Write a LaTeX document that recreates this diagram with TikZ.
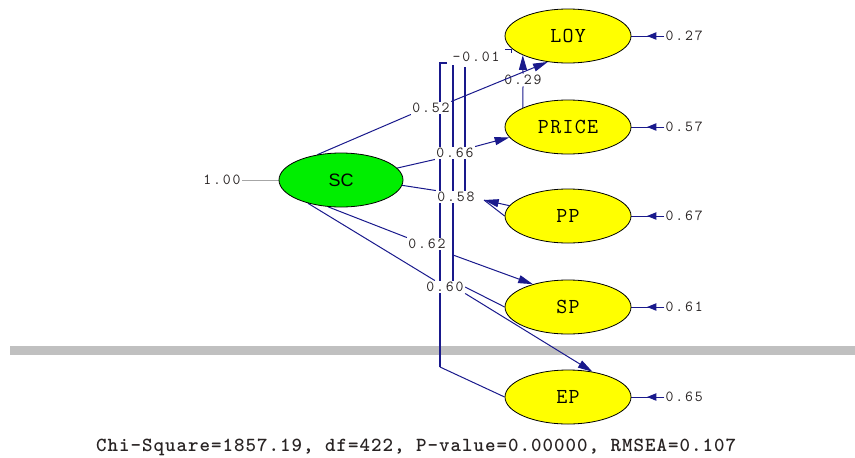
\documentclass[tikz,border=0pt]{standalone}
\usepackage{fontspec}
\usetikzlibrary{arrows.meta,calc,shapes.geometric}
\newfontfamily\ellfont[LetterSpace=6]{Latin Modern Mono}
\newfontfamily\lblfont[LetterSpace=12]{Latin Modern Mono}
\newfontfamily\fitfont[LetterSpace=5]{lmmonolt10-bold.otf}
\newfontfamily\scfont{Liberation Sans}
\definecolor{pathblue}{RGB}{25,25,140}
\definecolor{ltyellow}{RGB}{255,255,0}
\definecolor{ltgreen}{RGB}{0,238,0}
\definecolor{txtgray}{RGB}{40,35,35}
\definecolor{bargray}{RGB}{192,192,192}
\pgfdeclarelayer{bg}
\pgfsetlayers{bg,main}
\begin{document}
\begin{tikzpicture}[x=0.75pt,y=-0.75pt,
 latent/.style={ellipse,draw=black,line width=0.6pt,fill=ltyellow,minimum width=94.5pt,minimum height=40.5pt,inner sep=0pt,font=\ellfont\fontsize{16}{18}\selectfont},
 coef/.style={fill=white,inner sep=1pt,text=txtgray,font=\lblfont\fontsize{11.5}{13}\selectfont},
 errlbl/.style={anchor=west,inner sep=1pt,text=txtgray,font=\lblfont\fontsize{11.5}{13}\selectfont},
 pth/.style={draw=pathblue,line width=0.75pt},
 vln/.style={draw=pathblue,line width=1pt},
 arr/.style={pth,-{Triangle[length=11pt,width=6pt]}},
 errarr/.style={pth,-{Triangle[length=7pt,width=5.5pt]}},
]
\path[use as bounding box] (0,0) rectangle (855,457);

% latent variables
\node[latent,fill=ltgreen,minimum width=93pt,font=\scfont\fontsize{13.5}{15}\selectfont] (SC) at (341,180) {SC};
\node[latent] (LOY) at (568,36) {LOY};
\node[latent] (PRICE) at (568,127) {PRICE};
\node[latent] (PP) at (568,216) {PP};
\node[latent] (SP) at (568,307) {SP};
\node[latent] (EP) at (568,397) {EP};

% coefficient labels
\node[coef] (l52) at (431,108) {0.52};
\node[coef] (l01) at (476,57) {-0.01};
\node[coef] (l29) at (523,80) {0.29};
\node[coef] (l66) at (455,153) {0.66};
\node[coef] (l58) at (456,197) {0.58};
\node[coef] (l62) at (427,244) {0.62};
\node[coef] (l60) at (445,287) {0.60};

% error labels
\node[errlbl] (e1) at (664,36) {0.27};
\node[errlbl] (e2) at (664,127) {0.57};
\node[errlbl] (e3) at (664,216) {0.67};
\node[errlbl] (e4) at (664,307) {0.61};
\node[errlbl] (e5) at (664,397) {0.65};
\node[coef,fill=none] (v1) at (222,180) {1.00};

% fit text
\node[text=txtgray,font=\fitfont\fontsize{15}{17}\selectfont] (fit) at (416,447) {Chi-Square=1857.19, df=422, P-value=0.00000, RMSEA=0.107};

% helper coordinates
\coordinate (c1t) at (447,63);
\coordinate (c1) at (440,63);
\coordinate (c1b) at (440,367);
\coordinate (c2t) at (453,65);
\coordinate (c2b) at (453,282);
\coordinate (c2m) at (453,255);
\coordinate (c3t) at (465,67);
\coordinate (c3b) at (465,195);
\coordinate (t58) at (484,200);
\coordinate (k1) at (505,49);
\coordinate (k2) at (511,49);
\coordinate (k3) at (511,53);

\begin{pgfonlayer}{bg}
\fill[bargray] (10,346) rectangle (855,355);
\draw[pth] (SC.133) -- (l52.south west);
\draw[pth] (SC.12) -- (l66.south west);
\draw[arr] (l66.north east) -- (PRICE.190);
\draw[pth] (SC.-5) -- (l58.north west);
\draw[arr] (PP.170) -- (t58);
\draw[pth] (t58) -- (PP.west);
\draw[pth] (SC.244) -- (l62.north west);
\draw[arr] (c2m) -- (SP.147);
\draw[pth] (SC.215) -- ($(l60.north west)+(10,0)$);
\draw[arr] (l60.south east) -- (EP.46);
\draw[pth] (l60.east) -- (SP.west);
\draw[vln] (c1t) -- (c1) -- (c1b);
\draw[pth] (c1b) -- (EP.west);
\draw[vln] (c2t) -- (c2b);
\draw[vln] (c3t) -- (c3b);
\draw[pth] (k1) -- (k2) -- (k3);
\draw[pth] (PRICE.157) -- (l29.south);
\draw[arr] (l29.north) -- (LOY.203);
\draw[draw=gray!70,line width=0.6pt] (v1.east) -- (SC.west);
\foreach \n/\e in {LOY/e1,PRICE/e2,PP/e3,SP/e4,EP/e5}{
  \draw[pth] (\e.west) -- (\n.east);
  \draw[errarr] (\e.west) -- ++(-17,0);
}
\end{pgfonlayer}

\draw[arr] (l52.north east) -- (LOY.232);
\end{tikzpicture}
\end{document}
